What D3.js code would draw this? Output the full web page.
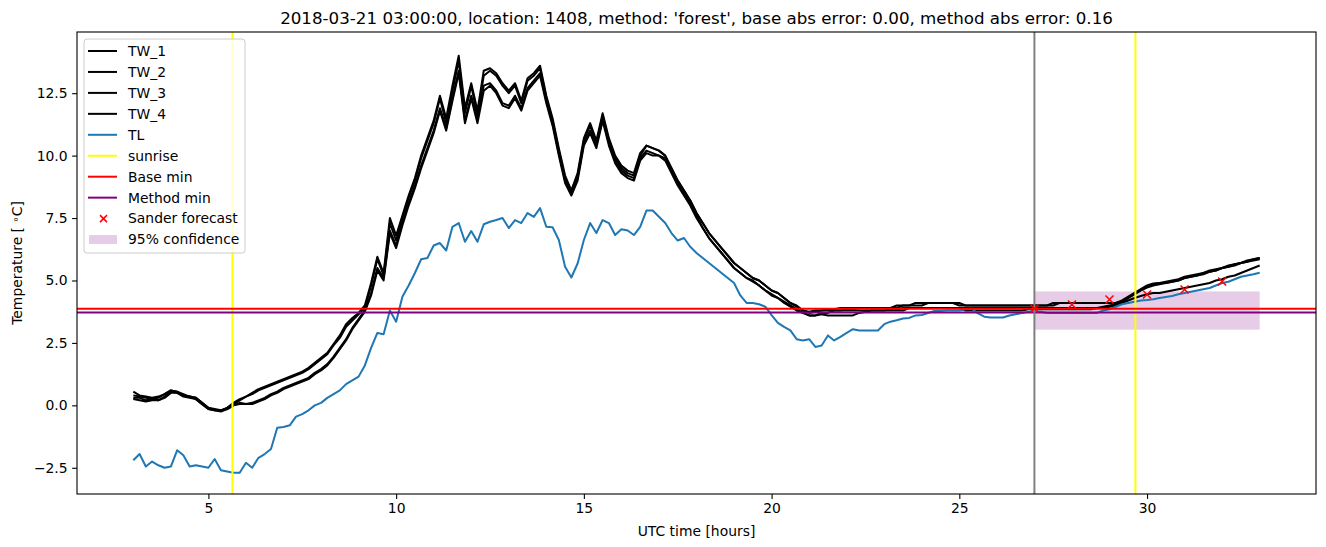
<!DOCTYPE html>
<html>
<head>
<meta charset="utf-8">
<script src="https://cdn.jsdelivr.net/npm/d3@7"></script>
<style>
  body { margin: 0; background: #fff; }
  svg { font-family: "DejaVu Sans", sans-serif; display: block; }
</style>
</head>
<body>
<div id="chart"></div>
<script>
// temperature series, 10-minute steps from 03:00 to 33:00 UTC
const tw1 = [
  0.55, 0.4, 0.35, 0.3, 0.35, 0.45,
  0.6, 0.55, 0.4, 0.35, 0.3, 0.1,
  -0.1, -0.2, -0.2, -0.1, 0.1, 0.25,
  0.35, 0.5, 0.65, 0.75, 0.85, 0.95,
  1.05, 1.15, 1.25, 1.35, 1.5, 1.7,
  1.9, 2.1, 2.45, 2.8, 3.25, 3.5,
  3.7, 4.0, 4.9, 5.95, 5.3, 7.5,
  6.8, 7.6, 8.4, 9.1, 10.0, 10.7,
  11.4, 12.4, 11.5, 12.8, 14.0, 11.9,
  12.9, 11.8, 13.4, 13.5, 13.3, 12.9,
  12.6, 12.9, 12.2, 13.1, 13.3, 13.6,
  12.4, 11.5, 10.3, 9.2, 8.6, 9.3,
  10.7, 11.3, 10.6, 11.7, 10.7, 10.0,
  9.6, 9.4, 9.3, 10.1, 10.4, 10.3,
  10.2, 10.0, 9.5, 9.0, 8.6, 8.2,
  7.7, 7.3, 6.9, 6.6, 6.3, 6.0,
  5.7, 5.5, 5.3, 5.1, 5.0, 4.8,
  4.6, 4.5, 4.3, 4.1, 4.0, 3.8,
  3.75, 3.8, 3.8, 3.85, 3.85, 3.9,
  3.9, 3.9, 3.9, 3.9, 3.9, 3.9,
  3.9, 3.9, 4.0, 4.0, 4.0, 4.1,
  4.1, 4.1, 4.1, 4.1, 4.1, 4.1,
  4.0, 4.0, 4.0, 4.0, 4.0, 4.0,
  4.0, 4.0, 4.0, 4.0, 4.0, 4.0,
  4.0, 4.0, 4.0, 4.1, 4.1, 4.1,
  4.1, 4.1, 4.1, 4.1, 4.1, 4.1,
  4.1, 4.1, 4.2, 4.35, 4.5, 4.65,
  4.8, 4.88, 4.9, 4.95, 5.0, 5.05,
  5.15, 5.2, 5.25, 5.3, 5.4, 5.45,
  5.5, 5.6, 5.65, 5.7, 5.75, 5.85,
  5.9
];
const tw2 = [
  0.4, 0.35, 0.3, 0.25, 0.3, 0.45,
  0.6, 0.55, 0.45, 0.35, 0.3, 0.1,
  -0.1, -0.15, -0.2, -0.1, 0.05, 0.2,
  0.35, 0.45, 0.6, 0.7, 0.8, 0.9,
  1.0, 1.1, 1.2, 1.3, 1.45, 1.65,
  1.85, 2.05, 2.4, 2.7, 3.15, 3.4,
  3.65, 3.9, 4.8, 5.85, 5.2, 7.3,
  6.6, 7.5, 8.3, 9.0, 9.9, 10.6,
  11.3, 12.3, 11.3, 12.6, 13.8, 11.7,
  12.8, 11.6, 13.2, 13.4, 13.2, 12.8,
  12.5, 12.8, 12.1, 13.0, 13.2, 13.5,
  12.3, 11.4, 10.2, 9.1, 8.6, 9.2,
  10.6, 11.2, 10.5, 11.6, 10.6, 9.9,
  9.5, 9.3, 9.2, 10.0, 10.4, 10.3,
  10.2, 10.0, 9.5, 9.0, 8.6, 8.2,
  7.7, 7.3, 6.9, 6.6, 6.3, 6.0,
  5.7, 5.5, 5.3, 5.1, 5.0, 4.8,
  4.6, 4.5, 4.3, 4.1, 3.95, 3.8,
  3.7, 3.75, 3.8, 3.8, 3.8, 3.8,
  3.85, 3.85, 3.9, 3.9, 3.9, 3.9,
  3.9, 3.9, 3.9, 4.0, 4.0, 4.0,
  4.0, 4.1, 4.1, 4.1, 4.1, 4.1,
  4.1, 4.0, 4.0, 4.0, 4.0, 4.0,
  4.0, 4.0, 4.0, 4.0, 4.0, 4.0,
  4.0, 4.0, 4.0, 4.0, 4.1, 4.1,
  4.1, 4.1, 4.1, 4.1, 4.1, 4.1,
  4.1, 4.1, 4.15, 4.3, 4.45, 4.6,
  4.75, 4.85, 4.9, 4.9, 4.95, 5.0,
  5.1, 5.15, 5.2, 5.3, 5.35, 5.4,
  5.5, 5.55, 5.6, 5.7, 5.75, 5.8,
  5.85
];
const tw3 = [
  0.3, 0.3, 0.2, 0.25, 0.2, 0.35,
  0.55, 0.5, 0.4, 0.35, 0.25, 0.05,
  -0.15, -0.2, -0.2, -0.15, 0.0, 0.1,
  0.05, 0.1, 0.2, 0.3, 0.45, 0.55,
  0.7, 0.8, 0.9, 1.0, 1.1, 1.3,
  1.45, 1.65, 1.95, 2.3, 2.65, 3.1,
  3.45, 3.8, 4.5, 5.5, 5.1, 7.0,
  6.4, 7.3, 8.1, 8.8, 9.6, 10.3,
  11.0, 11.9, 11.1, 12.3, 13.4, 11.4,
  12.4, 11.5, 12.8, 12.9, 12.6, 12.1,
  12.0, 12.4, 11.9, 12.7, 13.0, 13.3,
  12.2, 11.3, 10.1, 9.0, 8.5, 9.1,
  10.5, 11.0, 10.4, 11.5, 10.5, 9.8,
  9.4, 9.2, 9.1, 9.9, 10.2, 10.1,
  10.0, 9.9, 9.4, 8.9, 8.5, 8.1,
  7.6, 7.1, 6.7, 6.4, 6.1, 5.8,
  5.5, 5.3, 5.1, 5.0, 4.8, 4.6,
  4.45, 4.3, 4.15, 4.0, 3.85, 3.7,
  3.6, 3.6, 3.7, 3.7, 3.8, 3.8,
  3.8, 3.8, 3.8, 3.8, 3.8, 3.8,
  3.8, 3.8, 3.8, 3.8, 3.9, 3.9,
  3.9, 3.9, 3.9, 3.9, 3.9, 3.9,
  3.9, 3.8, 3.8, 3.8, 3.8, 3.8,
  3.8, 3.8, 3.8, 3.8, 3.8, 3.85,
  3.9, 3.9, 3.9, 3.9, 3.9, 3.9,
  3.9, 3.9, 3.9, 3.9, 3.9, 3.9,
  3.95, 4.0, 4.1, 4.2, 4.3, 4.38,
  4.45, 4.5, 4.5, 4.55, 4.6, 4.65,
  4.7, 4.75, 4.8, 4.85, 4.9, 5.0,
  5.05, 5.15, 5.2, 5.3, 5.4, 5.5,
  5.6
];
const tw4 = [
  0.25, 0.2, 0.15, 0.2, 0.2, 0.3,
  0.5, 0.5, 0.35, 0.3, 0.25, 0.05,
  -0.15, -0.2, -0.25, -0.15, 0.0, 0.05,
  0.05, 0.05, 0.15, 0.25, 0.4, 0.5,
  0.65, 0.75, 0.85, 0.95, 1.05, 1.25,
  1.4, 1.6, 1.9, 2.25, 2.6, 3.05,
  3.4, 3.75, 4.4, 5.4, 5.0, 6.9,
  6.3, 7.2, 8.0, 8.7, 9.5, 10.2,
  10.9, 11.8, 11.0, 12.2, 13.3, 11.3,
  12.3, 11.3, 12.6, 12.8, 12.5, 12.0,
  11.9, 12.3, 11.8, 12.6, 12.9, 13.2,
  12.1, 11.2, 10.0, 8.9, 8.4, 9.0,
  10.4, 10.9, 10.3, 11.4, 10.4, 9.7,
  9.3, 9.1, 9.0, 9.8, 10.1, 10.0,
  10.0, 9.8, 9.3, 8.8, 8.4, 8.0,
  7.5, 7.1, 6.7, 6.4, 6.1, 5.8,
  5.5, 5.3, 5.1, 4.95, 4.8, 4.6,
  4.4, 4.3, 4.1, 3.95, 3.8, 3.7,
  3.6, 3.6, 3.65, 3.6, 3.6, 3.6,
  3.6, 3.6, 3.7, 3.75, 3.8, 3.8,
  3.8, 3.85, 3.85, 3.9, 3.9, 3.9,
  3.9, 3.9, 3.9, 3.9, 3.9, 3.9,
  3.9, 3.9, 3.9, 3.9, 3.9, 3.9,
  3.9, 3.9, 3.9, 3.9, 3.9, 3.9,
  3.9, 3.85, 3.85, 3.85, 3.85, 3.85,
  3.85, 3.85, 3.85, 3.85, 3.9, 3.95,
  4.0, 4.05, 4.15, 4.3, 4.45, 4.6,
  4.72, 4.8, 4.85, 4.9, 4.95, 5.0,
  5.1, 5.15, 5.2, 5.25, 5.35, 5.4,
  5.5, 5.55, 5.65, 5.7, 5.8, 5.85,
  5.9
];
const tl = [
  -2.2, -1.95, -2.45, -2.25, -2.4, -2.5,
  -2.45, -1.8, -2.0, -2.45, -2.4, -2.45,
  -2.5, -2.15, -2.6, -2.65, -2.7, -2.7,
  -2.3, -2.5, -2.1, -1.95, -1.75, -0.9,
  -0.87, -0.8, -0.45, -0.35, -0.2, 0.0,
  0.1, 0.3, 0.45, 0.6, 0.85, 1.0,
  1.15, 1.6, 2.3, 2.9, 2.85, 3.8,
  3.35, 4.35, 4.8, 5.3, 5.85, 5.9,
  6.4, 6.5, 6.2, 7.15, 7.3, 6.55,
  6.98, 6.55, 7.25, 7.35, 7.42, 7.5,
  7.1, 7.42, 7.3, 7.7, 7.55, 7.9,
  7.15, 7.13, 6.62, 5.55, 5.12, 5.68,
  6.62, 7.3, 6.9, 7.42, 7.3, 6.82,
  7.05, 7.0, 6.82, 7.15, 7.8, 7.8,
  7.55, 7.3, 6.9, 6.6, 6.7, 6.35,
  6.1, 5.9, 5.7, 5.5, 5.3, 5.1,
  4.9, 4.4, 4.1, 4.1, 4.05, 3.95,
  3.61, 3.3, 3.14, 3.0, 2.65, 2.6,
  2.65, 2.34, 2.4, 2.8, 2.6, 2.74,
  2.9, 3.05, 3.0, 3.0, 3.0, 3.0,
  3.25, 3.35, 3.41, 3.48, 3.5, 3.6,
  3.62, 3.7, 3.78, 3.78, 3.8, 3.8,
  3.8, 3.85, 3.87, 3.68, 3.55, 3.52,
  3.52, 3.52, 3.6, 3.65, 3.7, 3.75,
  3.8, 3.75, 3.7, 3.7, 3.7, 3.7,
  3.7, 3.7, 3.7, 3.7, 3.7, 3.8,
  3.85, 3.95, 4.05, 4.1, 4.15, 4.2,
  4.22, 4.25, 4.3, 4.34, 4.38, 4.45,
  4.5, 4.55, 4.6, 4.65, 4.7, 4.8,
  4.9, 4.95, 5.05, 5.15, 5.2, 5.25,
  5.31
];
const hours = d3.range(tl.length).map(i => 3 + i / 6);

const sunriseHours = [5.64, 29.69];
const forecastStart = 27;
const baseMin = 3.87;
const methodMin = 3.72;
const forecastHours = [27, 28, 29, 30, 31, 32];
const forecastValues = [3.88, 4.04, 4.24, 4.44, 4.64, 4.96];
const confHours = [27, 33];
const confRange = [3.03, 4.56];
const xTicks = [5, 10, 15, 20, 25, 30];
const yTicks = [-2.5, 0, 2.5, 5, 7.5, 10, 12.5];
const legendLabels = ['TW_1', 'TW_2', 'TW_3', 'TW_4', 'TL', 'sunrise', 'Base min', 'Method min', 'Sander forecast', '95% confidence'];

const W = 1326, H = 547;
const margin = { top: 32, right: 10, bottom: 53, left: 77 };
const width = W - margin.left - margin.right;
const height = H - margin.top - margin.bottom;

const svg = d3.select('#chart').append('svg')
    .attr('width', W)
    .attr('height', H);
svg.append('rect').attr('width', W).attr('height', H).attr('fill', '#fff');

const g = svg.append('g')
    .attr('transform', `translate(${margin.left},${margin.top})`);

g.append('clipPath').attr('id', 'clip')
  .append('rect').attr('width', width).attr('height', height);

const x = d3.scaleLinear().domain([1.5, 34.5]).range([0, width]);
const y = d3.scaleLinear().domain([-3.55, 14.95]).range([height, 0]);

const plot = g.append('g').attr('clip-path', 'url(#clip)');

// confidence band
plot.append('rect')
    .attr('x', x(confHours[0]))
    .attr('width', x(confHours[1]) - x(confHours[0]))
    .attr('y', y(confRange[1]))
    .attr('height', y(confRange[0]) - y(confRange[1]))
    .attr('fill', 'purple')
    .attr('fill-opacity', 0.2);

const line = d3.line().x((d, i) => x(hours[i])).y(d => y(d));

[tw1, tw2, tw3, tw4].forEach(s => {
  plot.append('path').datum(s)
      .attr('d', line)
      .attr('fill', 'none')
      .attr('stroke', '#000')
      .attr('stroke-width', 2)
      .attr('stroke-linejoin', 'round');
});
plot.append('path').datum(tl)
    .attr('d', line)
    .attr('fill', 'none')
    .attr('stroke', '#1f77b4')
    .attr('stroke-width', 2)
    .attr('stroke-linejoin', 'round');

// sunrise lines
plot.selectAll('.sunrise').data(sunriseHours).enter().append('line')
    .attr('x1', d => x(d)).attr('x2', d => x(d))
    .attr('y1', 0).attr('y2', height)
    .attr('stroke', 'yellow').attr('stroke-width', 2);

// minimum lines
plot.append('line')
    .attr('x1', 0).attr('x2', width)
    .attr('y1', y(baseMin)).attr('y2', y(baseMin))
    .attr('stroke', 'red').attr('stroke-width', 2);
plot.append('line')
    .attr('x1', 0).attr('x2', width)
    .attr('y1', y(methodMin)).attr('y2', y(methodMin))
    .attr('stroke', 'purple').attr('stroke-width', 2);

// forecast start
plot.append('line')
    .attr('x1', x(forecastStart)).attr('x2', x(forecastStart))
    .attr('y1', 0).attr('y2', height)
    .attr('stroke', 'gray').attr('stroke-width', 2);

// Sander forecast markers
plot.selectAll('.fc').data(forecastValues).enter().append('path')
    .attr('transform', (d, i) => `translate(${x(forecastHours[i])},${y(d)})`)
    .attr('d', 'M-4,-4L4,4M-4,4L4,-4')
    .attr('fill', 'none')
    .attr('stroke', 'red')
    .attr('stroke-width', 1.5);

// axes
const xAxis = g.append('g')
    .attr('transform', `translate(0,${height})`)
    .call(d3.axisBottom(x).tickValues(xTicks).tickSize(4.9).tickPadding(4.5).tickFormat(d3.format('d')));
const yAxis = g.append('g')
    .call(d3.axisLeft(y).tickValues(yTicks).tickSize(4.9).tickPadding(4.5).tickFormat(d3.format('.1f')));
[xAxis, yAxis].forEach(a => {
  a.select('.domain').remove();
  a.selectAll('text').attr('font-size', 13.9).attr('font-family', 'DejaVu Sans').attr('fill', '#000');
  a.selectAll('line').attr('stroke', '#000').attr('stroke-width', 1.1);
});

g.append('rect')
    .attr('width', width).attr('height', height)
    .attr('fill', 'none').attr('stroke', '#000').attr('stroke-width', 1.1);

// labels
svg.append('text')
    .attr('x', margin.left + width / 2).attr('y', 536)
    .attr('text-anchor', 'middle').attr('font-size', 13.9)
    .text('UTC time [hours]');

const yl = svg.append('text')
    .attr('transform', `translate(22,${margin.top + height / 2}) rotate(-90)`)
    .attr('text-anchor', 'middle').attr('font-size', 13.9);
yl.append('tspan').text('Temperature [ ');
yl.append('tspan').attr('baseline-shift', '35%').attr('font-size', 10).text('∘');
yl.append('tspan').text('C]');

svg.append('text')
    .attr('x', margin.left + width / 2).attr('y', 24)
    .attr('text-anchor', 'middle').attr('font-size', 16.7)
    .text("2018-03-21 03:00:00, location: 1408, method: 'forest', base abs error: 0.00, method abs error: 0.16");

// legend
const lg = svg.append('g').attr('transform', 'translate(84,39)');
lg.append('rect')
    .attr('width', 161).attr('height', 214).attr('rx', 3)
    .attr('fill', '#fff').attr('fill-opacity', 0.8)
    .attr('stroke', '#ccc').attr('stroke-width', 1);
const legendColors = ['#000', '#000', '#000', '#000', '#1f77b4', 'yellow', 'red', 'purple'];
legendLabels.forEach((lab, i) => {
  const cy = 12 + i * 20.95;
  if (i < 8) {
    lg.append('line').attr('x1', 4).attr('x2', 33).attr('y1', cy).attr('y2', cy)
      .attr('stroke', legendColors[i]).attr('stroke-width', 2);
  } else if (i === 8) {
    lg.append('path').attr('transform', `translate(19.5,${cy})`)
      .attr('d', 'M-3.5,-3.5L3.5,3.5M-3.5,3.5L3.5,-3.5')
      .attr('stroke', 'red').attr('stroke-width', 1.5).attr('fill', 'none');
  } else {
    lg.append('rect').attr('x', 5).attr('y', cy - 4.5).attr('width', 28).attr('height', 9)
      .attr('fill', 'purple').attr('fill-opacity', 0.2);
  }
  lg.append('text').attr('x', 44).attr('y', cy).attr('dy', '0.35em')
    .attr('font-size', 13.9).text(lab);
});
</script>
</body>
</html>
